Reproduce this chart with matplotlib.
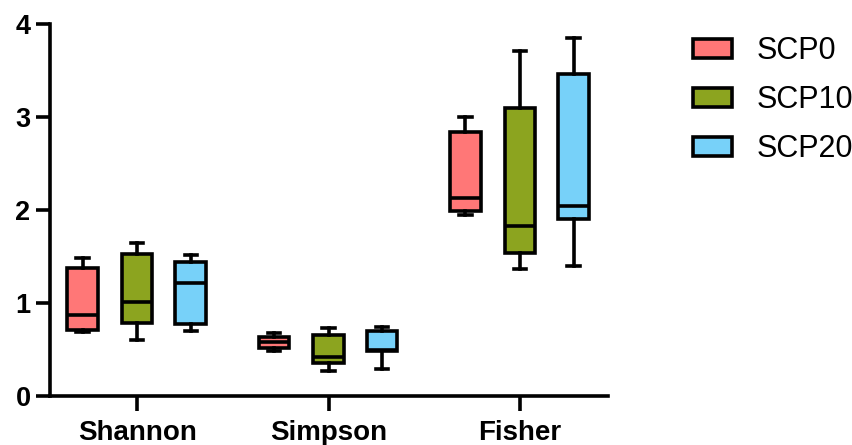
import matplotlib
matplotlib.use("Agg")
import matplotlib.pyplot as plt
from matplotlib.patches import Patch

plt.rcParams['font.family'] = ['Liberation Sans', 'DejaVu Sans']

# index names and groups
indices = ["Shannon", "Simpson", "Fisher"]
groups = ["SCP0", "SCP10", "SCP20"]
colors = ["#ff7777", "#8ca41f", "#77d1f9"]

# box stats: [whislo, q1, median, q3, whishi]
scp0 = [
    [0.69, 0.71, 0.87, 1.38, 1.48],
    [0.48, 0.52, 0.58, 0.63, 0.68],
    [1.95, 1.99, 2.13, 2.84, 3.00],
]
scp10 = [
    [0.60, 0.79, 1.01, 1.53, 1.65],
    [0.27, 0.36, 0.42, 0.66, 0.73],
    [1.37, 1.54, 1.83, 3.10, 3.71],
]
scp20 = [
    [0.70, 0.77, 1.22, 1.44, 1.52],
    [0.29, 0.48, 0.50, 0.70, 0.74],
    [1.40, 1.90, 2.04, 3.46, 3.85],
]

fig = plt.figure(figsize=(8.52, 4.45), dpi=100)
ax = fig.add_axes([0.0587, 0.110, 0.655, 0.836])

offsets = [-0.285, 0.0, 0.28]
width = 0.16
lw = 2.6

for series, off, col in zip([scp0, scp10, scp20], offsets, colors):
    stats = []
    for name, (lo, q1, med, q3, hi) in zip(indices, series):
        stats.append(dict(label=name, whislo=lo, q1=q1, med=med, q3=q3, whishi=hi, fliers=[]))
    pos = [i + off for i in range(len(indices))]
    ax.bxp(stats, positions=pos, widths=width, patch_artist=True, showfliers=False,
           manage_ticks=False,
           boxprops=dict(facecolor=col, edgecolor="black", linewidth=lw),
           medianprops=dict(color="black", linewidth=lw),
           whiskerprops=dict(color="black", linewidth=lw),
           capprops=dict(color="black", linewidth=lw),
           capwidths=width * 0.4)

ax.set_xlim(-0.455, 2.46)
ax.set_ylim(0, 4)
ax.set_yticks([0, 1, 2, 3, 4])
ax.set_xticks(range(len(indices)))
ax.set_xticklabels(indices)

for s in ["top", "right"]:
    ax.spines[s].set_visible(False)
for s in ["left", "bottom"]:
    ax.spines[s].set_linewidth(lw)
ax.spines["left"].set_bounds(0, 4)

ax.tick_params(axis="both", width=lw, length=10, labelsize=19.5, pad=4)
ax.tick_params(axis="x", length=11, labelsize=20, pad=6)
for t in ax.get_xticklabels() + ax.get_yticklabels():
    t.set_fontweight("bold")

handles = [Patch(facecolor=c, edgecolor="black", linewidth=lw, label=g) for g, c in zip(groups, colors)]
fig.legend(handles=handles, loc="upper left", bbox_to_anchor=(0.813, 0.918),
           frameon=False, fontsize=22, handlelength=1.3, handleheight=0.6,
           labelspacing=0.62, handletextpad=0.8, borderpad=0, borderaxespad=0)

fig.savefig("out.png", dpi=100)
